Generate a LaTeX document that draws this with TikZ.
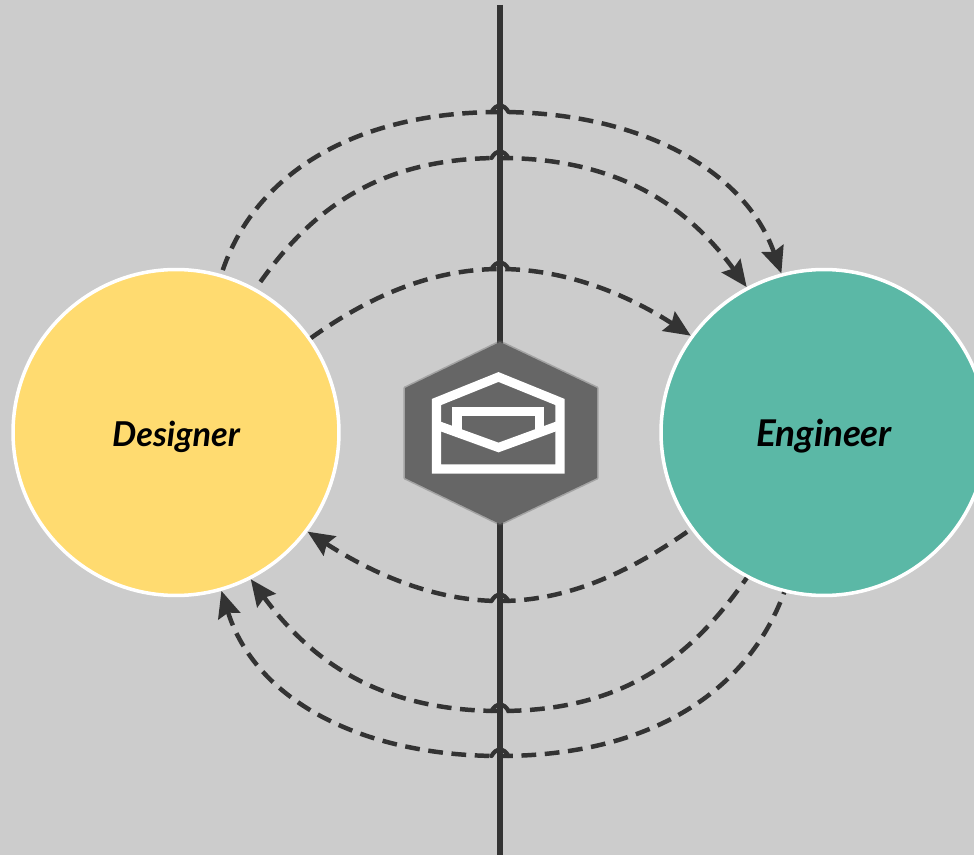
\documentclass[tikz,border=0pt]{standalone}
\usepackage{fontspec}
\setmainfont{Lato}
\usetikzlibrary{arrows.meta}
\definecolor{bgGray}{HTML}{CCCCCC}
\definecolor{lineDark}{HTML}{333333}
\definecolor{hexGray}{HTML}{666666}
\definecolor{designerYellow}{HTML}{FFDB70}
\definecolor{engineerGreen}{HTML}{5BB8A6}
\tikzset{
    role/.style={circle,draw=white,line width=2pt,minimum size=6.52cm,inner sep=0pt,text=black,text height=16pt,text depth=0pt},
    msgflow/.style={draw=lineDark,line width=2.55pt,dash pattern=on 8.4pt off 4.9pt,{Stealth[length=15pt,width=13pt,inset=2pt]}-},
    caret/.style={draw=lineDark,line width=2.4pt,line cap=round},
    envelope/.style={draw=white,line width=5.2pt,miter limit=10}
}
\newcommand{\rolefont}[1]{\fontsize{#1}{#1}\selectfont\bfseries\itshape}
\begin{document}
\begin{tikzpicture}[x=0.02cm,y=-0.02cm]
        \path[use as bounding box,clip](0,0)rectangle(974,855);
        \fill[bgGray](0,0)rectangle(974,855);
        % broker axis
        \coordinate(axistop)at(500,5);
        \coordinate(axisbottom)at(500,855);
        \draw[lineDark,line width=3pt](axistop)--(axisbottom);
        % roles
        \node[role,fill=designerYellow](designer)at(176,432.5){\rolefont{19.5}Designer};
        \node[role,fill=engineerGreen](engineer)at(824,432.5){\rolefont{21}Engineer};
        % crossing points on the axis
        \coordinate(m1)at(500,112);
        \coordinate(m2)at(500,158);
        \coordinate(m3)at(500,269);
        \coordinate(m4)at(500,601);
        \coordinate(m5)at(500,711);
        \coordinate(m6)at(500,756);
        % messages above
        \draw[msgflow](engineer.105.5)..controls(745,170)and(640,112)..(m1)..controls(360,112)and(255,170)..(designer.74.3);
        \draw[msgflow](engineer.118.3)..controls(689,208)and(620,158)..(m2)..controls(380,158)and(311,208)..(designer.61.5);
        \draw[msgflow](engineer.144.3)..controls(633,298)and(570,269)..(m3)..controls(430,269)and(367,298)..(designer.35.7);
        % messages below
        \draw[msgflow](designer.-37.7)..controls(367,570)and(430,601)..(m4)..controls(570,601)and(633,570)..(engineer.216.8);
        \draw[msgflow](designer.-63)..controls(311,661)and(380,711)..(m5)..controls(620,711)and(689,661)..(engineer.242.5);
        \draw[msgflow](designer.-74.4)..controls(255,699)and(360,756)..(m6)..controls(640,756)and(745,699)..(engineer.256);
        \foreach \m in {m1,m2,m3,m4,m5,m6}{
            \draw[caret]([shift={(-8.5,0)}]\m)..controls([shift={(-4,-8.5)}]\m)and([shift={(4,-8.5)}]\m)..([shift={(8.5,0)}]\m);
        }
        % hexagon
        \draw[hexGray,opacity=0.4,line width=1.8pt,line join=round](500,342)--(597,388)--(597,478)--(500,524)--(405,478)--(405,388)--cycle;
        \fill[hexGray](500,342)--(597,388)--(597,478)--(500,524)--(405,478)--(405,388)--cycle;
        % envelope
        \draw[envelope](457,434)--(457,411.5)--(539.5,411.5)--(539.5,434);
        \draw[envelope](436.5,402)--(498.5,377)--(560,402)--(560,469)--(436.5,469)--cycle;
        \draw[envelope](436.5,425)--(498.5,447.5)--(560,425);
\end{tikzpicture}
\end{document}
